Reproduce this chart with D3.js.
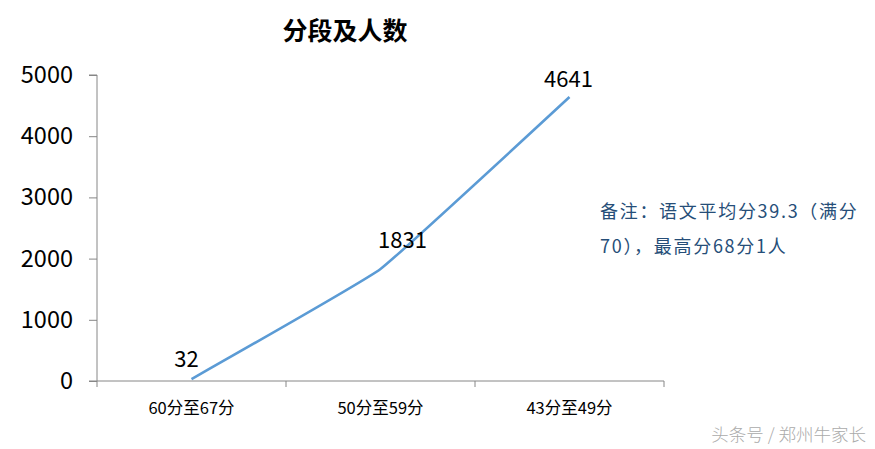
<!DOCTYPE html>
<html><head><meta charset="utf-8">
<script src="https://cdn.jsdelivr.net/npm/d3@7/dist/d3.min.js"></script>
<style>body{margin:0;background:#fff}svg{display:block}</style>
</head><body>
<script>
const categories = ["60分至67分", "50分至59分", "43分至49分"];
const values = [32, 1831, 4641];
const yTicks = [0, 1000, 2000, 3000, 4000, 5000];
const title = "分段及人数";
const noteLines = ["备注：语文平均分39.3（满分", "70），最高分68分1人"];
const watermark = "头条号 / 郑州牛家长";

(function () {
const W = 875, H = 449;
const font = "'Noto Sans CJK SC', 'Noto Sans', sans-serif";
const svg = d3.select("body").append("svg").attr("width", W).attr("height", H)
  .style("font-family", font);

const pLeft = 97, pRight = 664, pTop = 75, pBottom = 381;
const x = d3.scaleBand().domain(categories).range([pLeft, pRight]);
const y = d3.scaleLinear().domain([0, 5000]).range([pBottom, pTop]);

// y axis
const ya = svg.append("g").attr("transform", `translate(${pLeft},0)`)
  .call(d3.axisLeft(y).tickValues(yTicks).tickSize(8).tickPadding(16).tickFormat(d3.format("d")));
ya.select(".domain").attr("stroke", "#868686").attr("d", `M-8,${pTop}H0V${pBottom}H-8`);
ya.selectAll(".tick line").attr("stroke", "#868686");
ya.selectAll(".tick text").attr("font-size", 23.5).attr("fill", "#000").attr("font-family", font);

// x axis
const xa = svg.append("g").attr("transform", `translate(0,${pBottom})`)
  .call(d3.axisBottom(x).tickSize(0).tickPadding(21));
xa.select(".domain").attr("stroke", "#868686").attr("d", `M${pLeft},0H${pRight}`);
xa.selectAll(".tick text").attr("font-size", 16.5).attr("fill", "#000").attr("font-family", font);
const edges = categories.map(c => x(c)).concat([pRight]);
xa.selectAll(".edge").data(edges).enter().append("line")
  .attr("x1", d => d).attr("x2", d => d).attr("y1", 0).attr("y2", 6).attr("stroke", "#868686");

// line
const pts = categories.map((c, i) => [x(c) + x.bandwidth() / 2, y(values[i])]);
svg.append("path").datum(pts)
  .attr("d", d3.line().curve(d3.curveCardinal.tension(0.75)))
  .attr("fill", "none").attr("stroke", "#5B9BD5").attr("stroke-width", 2.6);

// data labels
const dx = [-5, 22, -1];
const dy = [-12, -21, -10];
svg.selectAll(".lbl").data(values).enter().append("text")
  .attr("x", (d, i) => pts[i][0] + dx[i])
  .attr("y", (d, i) => pts[i][1] + dy[i])
  .attr("text-anchor", "middle").attr("font-size", 22).attr("fill", "#000")
  .text(d => d);

// title
svg.append("text").attr("x", 345).attr("y", 40).attr("text-anchor", "middle")
  .attr("font-size", 25).attr("font-weight", "bold").attr("fill", "#000").text(title);

// note
svg.selectAll(".note").data(noteLines).enter().append("text")
  .attr("x", 600).attr("y", (d, i) => 218 + i * 35)
  .attr("font-size", 18).attr("letter-spacing", 1.7).attr("fill", "#264E78").text(d => d);

// watermark
svg.append("text").attr("x", 866).attr("y", 441).attr("text-anchor", "end")
  .attr("font-size", 17.5).attr("font-weight", 300).attr("fill", "#aaaaaa").text(watermark);
})();
</script>
</body></html>
